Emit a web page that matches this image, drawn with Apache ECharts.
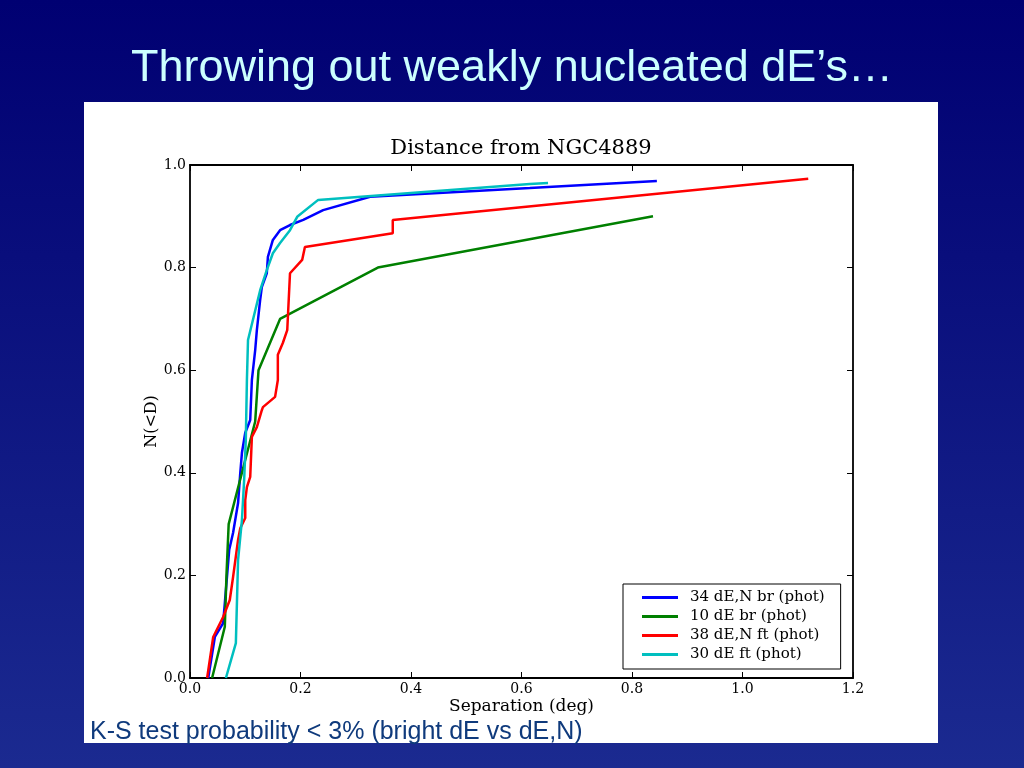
<!DOCTYPE html>
<html>
<head>
<meta charset="utf-8">
<script src="https://cdn.jsdelivr.net/npm/echarts@6/dist/echarts.min.js"></script>
<style>
html,body{margin:0;padding:0;width:1024px;height:768px;overflow:hidden;}
#c{width:1024px;height:768px;}
</style>
</head>
<body>
<div id="c"></div>
<script>
// ---- data (separation in deg, cumulative fraction N(<D)) ----
const seriesNames = ["34 dE,N br (phot)", "10 dE br (phot)", "38 dE,N ft (phot)", "30 dE ft (phot)"];
const xTicks = [0.0, 0.2, 0.4, 0.6, 0.8, 1.0, 1.2];
const yTicks = [0.0, 0.2, 0.4, 0.6, 0.8, 1.0];

const blueBright = [
  [0.033,0.000],[0.045,0.080],[0.060,0.107],[0.071,0.250],[0.078,0.283],[0.087,0.341],
  [0.091,0.400],[0.094,0.439],[0.100,0.478],[0.109,0.503],[0.112,0.581],[0.118,0.639],
  [0.121,0.678],[0.127,0.737],[0.130,0.762],[0.139,0.789],[0.141,0.821],[0.150,0.854],
  [0.163,0.873],[0.181,0.883],[0.205,0.893],[0.241,0.912],[0.326,0.938],[0.615,0.955],
  [0.845,0.969]
];
const greenBright = [
  [0.040,0.0],[0.063,0.1],[0.066,0.2],[0.070,0.3],[0.094,0.4],[0.118,0.5],
  [0.124,0.6],[0.163,0.7],[0.340,0.8],[0.838,0.9]
];
const redFaint = [
  [0.031,0.000],[0.042,0.080],[0.060,0.119],[0.072,0.152],[0.078,0.197],[0.087,0.269],
  [0.091,0.292],[0.100,0.312],[0.100,0.347],[0.103,0.372],[0.109,0.392],[0.112,0.470],
  [0.121,0.489],[0.130,0.522],[0.132,0.528],[0.154,0.548],[0.159,0.581],[0.159,0.630],
  [0.168,0.653],[0.176,0.678],[0.181,0.789],[0.203,0.815],[0.208,0.840],[0.367,0.867],
  [0.367,0.893],[1.119,0.973]
];
const cyanFaint = [
  [0.065,0.000],[0.083,0.068],[0.087,0.230],[0.094,0.308],[0.098,0.386],[0.101,0.464],
  [0.103,0.581],[0.105,0.659],[0.127,0.756],[0.139,0.795],[0.150,0.828],[0.163,0.848],
  [0.181,0.873],[0.194,0.899],[0.232,0.932],[0.615,0.963],[0.648,0.965]
];
const seriesData = [blueBright, greenBright, redFaint, cyanFaint];
const seriesColors = ["#0000ff", "#008000", "#ff0000", "#00bfbf"];

const serif = "'DejaVu Serif', serif";
const chart = echarts.init(document.getElementById('c'), null, {renderer: 'canvas'});

function axisCommon(extra) {
  return Object.assign({
    type: 'value',
    axisLine: {show: true, onZero: false, lineStyle: {color: '#000', width: 1.8}},
    axisTick: {show: true, inside: true, length: 6, lineStyle: {color: '#000', width: 1}},
    splitLine: {show: false},
  }, extra);
}

chart.setOption({
  animation: false,
  backgroundColor: {
    type: 'linear', x: 0, y: 0, x2: 0, y2: 1,
    colorStops: [{offset: 0, color: '#000072'}, {offset: 1, color: '#1b2a90'}]
  },
  graphic: [
    {type: 'rect', z: -10, shape: {x: 84, y: 102, width: 854, height: 641}, style: {fill: '#ffffff'}},
    {type: 'text', left: 'center', top: 46, style: {text: 'Throwing out weakly nucleated dE\u2019s\u2026', fill: '#ccffff', font: "45px 'Liberation Sans', Arial, sans-serif"}},
    {type: 'text', left: 90, top: 720, style: {text: 'K-S test probability < 3% (bright dE vs dE,N)', fill: '#0f3a7c', font: "25px 'Liberation Sans', Arial, sans-serif"}},
    {type: 'text', x: 521, y: 138, style: {text: 'Distance from NGC4889', fill: '#000', align: 'center', font: "21px 'DejaVu Serif', serif"}}
  ],
  grid: {left: 190, right: 171, top: 165, bottom: 90, show: false},
  legend: {
    orient: 'vertical', left: 623, top: 584,
    data: seriesNames.map((n) => ({name: n, icon: 'rect'})),
    itemWidth: 36, itemHeight: 3, itemGap: 4,
    padding: [6, 16, 7, 19],
    backgroundColor: '#fff', borderColor: '#000', borderWidth: 1, borderRadius: 0,
    textStyle: {fontFamily: serif, fontSize: 15, color: '#000', padding: [0, 0, 0, 7]}
  },
  xAxis: [
    axisCommon({position: 'bottom', min: 0, max: 1.2, interval: 0.2,
      name: 'Separation (deg)', nameLocation: 'middle', nameGap: 20, nameMoveOverlap: false,
      nameTextStyle: {fontFamily: serif, fontSize: 17, color: '#000'},
      axisLabel: {fontFamily: serif, fontSize: 14, color: '#000', margin: 4, formatter: v => v.toFixed(1)}}),
    axisCommon({position: 'top', min: 0, max: 1.2, interval: 0.2, axisLabel: {show: false}})
  ],
  yAxis: [
    axisCommon({position: 'left', min: 0, max: 1, interval: 0.2,
      name: 'N(<D)', nameLocation: 'middle', nameGap: 30, nameRotate: 90, nameMoveOverlap: false,
      nameTextStyle: {fontFamily: serif, fontSize: 16, color: '#000'},
      axisLabel: {fontFamily: serif, fontSize: 14, color: '#000', margin: 4, formatter: v => v.toFixed(1)}}),
    axisCommon({position: 'right', min: 0, max: 1, interval: 0.2, axisLabel: {show: false}})
  ],
  series: seriesNames.map((n, i) => ({
    name: n, type: 'line', data: seriesData[i], xAxisIndex: 0, yAxisIndex: 0,
    showSymbol: false, symbol: 'none', smooth: false,
    lineStyle: {color: seriesColors[i], width: 2.5},
    itemStyle: {color: seriesColors[i]}
  }))
});
</script>
</body>
</html>
